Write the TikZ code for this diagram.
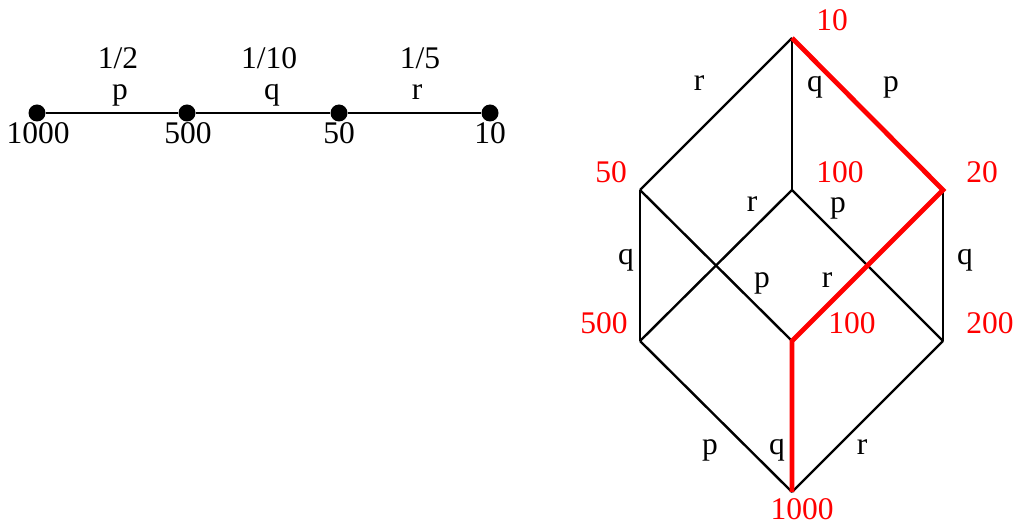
\documentclass[tikz,border=0pt]{standalone}
\usepackage{fontspec}
\setmainfont{Liberation Serif}
\usepackage{xcolor}
\usepackage{tikz}
\usetikzlibrary{positioning}
\definecolor{latred}{HTML}{FF0000}
\tikzset{
  latedge/.style={line width=2.4pt, draw=black},
  latpath/.style={line width=4.8pt, draw=latred},
  latdot/.style={circle, fill=black, inner sep=0pt, minimum size=17pt},
  latval/.style={text=latred, inner sep=0pt},
  lattxt/.style={text=black, inner sep=0pt}
}

\begin{document}
\begin{tikzpicture}[x=1pt, y=-1pt, font=\fontsize{31.5}{36}\selectfont]
\useasboundingbox (0,0) rectangle (1016,526);
% chain of dots
\node[latdot] (d1000) at (37,113) {};
\node[latdot] (d500) at (187,113) {};
\node[latdot] (d50) at (339,113) {};
\node[latdot] (d10) at (490,113) {};
\draw[latedge] (d1000) -- (d500) -- (d50) -- (d10);
\node[lattxt] (n1000) at (38,133) {1000};
\node[lattxt] (n500) at (188,133) {500};
\node[lattxt] (n50) at (339,133) {50};
\node[lattxt] (n10) at (490,133) {10};
\node[lattxt] (fp) at (118,58) {1/2};
\node[lattxt] (lp) at (120,95) {p};
\node[lattxt] (fq) at (269,58) {1/10};
\node[lattxt] (lq) at (272,95) {q};
\node[lattxt] (fr) at (420,58) {1/5};
\node[lattxt] (lr) at (417,92) {r};
% lattice
\coordinate (top) at (792,38);
\coordinate (c50) at (640,190);
\coordinate (c100a) at (792,190);
\coordinate (c20) at (943,190);
\coordinate (c500) at (640,341);
\coordinate (c100b) at (792,341);
\coordinate (c200) at (943,341);
\coordinate (bot) at (792,492);
\draw[latedge] (top) -- (c50);
\draw[latedge] (top) -- (c100a);
\draw[latedge] (c50) -- (c500);
\draw[latedge] (c50) -- (c100b);
\draw[latedge] (c100a) -- (c500);
\draw[latedge] (c100a) -- (c200);
\draw[latedge] (c20) -- (c200);
\draw[latedge] (c500) -- (bot);
\draw[latedge] (c200) -- (bot);
\draw[latpath] (top) -- (c20) -- (c100b) -- (bot);
% values
\node[latval] (v10) at (832,20) {10};
\node[latval] (v50) at (611,172) {50};
\node[latval] (v100a) at (840,172) {100};
\node[latval] (v20) at (982,172) {20};
\node[latval] (v500) at (604,323) {500};
\node[latval] (v100b) at (852,323) {100};
\node[latval] (v200) at (990,323) {200};
\node[latval] (v1000) at (802,509) {1000};
% edge letters
\node[lattxt] (e1) at (699,83) {r};
\node[lattxt] (e2) at (815,87) {q};
\node[lattxt] (e3) at (891,87) {p};
\node[lattxt] (e4) at (752,204) {r};
\node[lattxt] (e5) at (838,208) {p};
\node[lattxt] (e6) at (626,260) {q};
\node[lattxt] (e7) at (965,260) {q};
\node[lattxt] (e8) at (762,283) {p};
\node[lattxt] (e9) at (827,280) {r};
\node[lattxt] (e10) at (710,450) {p};
\node[lattxt] (e11) at (777,450) {q};
\node[lattxt] (e12) at (862,447) {r};
\end{tikzpicture}
\end{document}
